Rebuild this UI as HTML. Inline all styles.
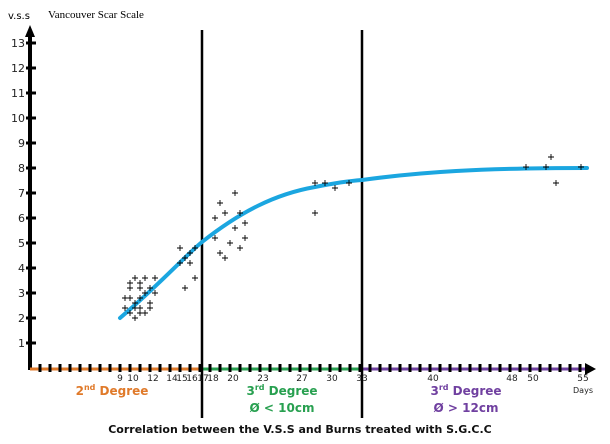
<!DOCTYPE html>
<html><head><style>body{margin:0;background:#fff}svg{display:block}</style></head><body>
<svg width="610" height="444" xmlns="http://www.w3.org/2000/svg" font-family="Verdana, 'DejaVu Sans', sans-serif">
<rect width="610" height="444" fill="#fff"/>
<line x1="30" y1="30" x2="30" y2="370" stroke="#000" stroke-width="4"/>
<polygon points="30,25 25,37 35,37" fill="#000"/>
<text x="8" y="19" font-size="10">v.s.s</text>
<text x="48" y="18" font-size="11" font-family="'Liberation Serif',serif">Vancouver Scar Scale</text>
<g stroke="#000" stroke-width="3">
<line x1="26" y1="43" x2="36" y2="43"/><line x1="26" y1="68" x2="36" y2="68"/><line x1="26" y1="93" x2="36" y2="93"/><line x1="26" y1="118" x2="36" y2="118"/><line x1="26" y1="143" x2="36" y2="143"/><line x1="26" y1="168" x2="36" y2="168"/><line x1="26" y1="193" x2="36" y2="193"/><line x1="26" y1="218" x2="36" y2="218"/><line x1="26" y1="243" x2="36" y2="243"/><line x1="26" y1="268" x2="36" y2="268"/><line x1="26" y1="293" x2="36" y2="293"/><line x1="26" y1="318" x2="36" y2="318"/><line x1="26" y1="343" x2="36" y2="343"/>
</g>
<g font-size="11" text-anchor="end" fill="#222">
<text x="25" y="47">13</text><text x="25" y="72">12</text><text x="25" y="97">11</text><text x="25" y="122">10</text><text x="25" y="147">9</text><text x="25" y="172">8</text><text x="25" y="197">7</text><text x="25" y="222">6</text><text x="25" y="247">5</text><text x="25" y="272">4</text><text x="25" y="297">3</text><text x="25" y="322">2</text><text x="25" y="347">1</text>
</g>
<line x1="30" y1="369" x2="202" y2="369" stroke="#e07a2a" stroke-width="3"/>
<line x1="202" y1="369" x2="362" y2="369" stroke="#28a050" stroke-width="3"/>
<line x1="362" y1="369" x2="588" y2="369" stroke="#7040a0" stroke-width="3"/>
<polygon points="596,369 585,363 585,375" fill="#000"/>
<path stroke="#000" stroke-width="3" d="M40,364v8M50,364v8M60,364v8M70,364v8M80,364v8M90,364v8M100,364v8M110,364v8M120,364v8M130,364v8M140,364v8M150,364v8M160,364v8M170,364v8M180,364v8M190,364v8M200,364v8M210,364v8M220,364v8M230,364v8M240,364v8M250,364v8M260,364v8M270,364v8M280,364v8M290,364v8M300,364v8M310,364v8M320,364v8M330,364v8M340,364v8M350,364v8M360,364v8M370,364v8M380,364v8M390,364v8M400,364v8M410,364v8M420,364v8M430,364v8M440,364v8M450,364v8M460,364v8M470,364v8M480,364v8M490,364v8M500,364v8M510,364v8M520,364v8M530,364v8M540,364v8M550,364v8M560,364v8M570,364v8M580,364v8"/>
<line x1="202" y1="30" x2="202" y2="418" stroke="#000" stroke-width="2.5"/>
<line x1="362" y1="30" x2="362" y2="418" stroke="#000" stroke-width="2.5"/>
<g font-size="9" text-anchor="middle" fill="#222">
<text x="120" y="381">9</text><text x="133" y="381">10</text><text x="153" y="381">12</text><text x="172" y="381">14</text><text x="182" y="381">15</text><text x="192" y="381">16</text><text x="203" y="381">17</text><text x="213" y="381">18</text><text x="233" y="381">20</text><text x="263" y="381">23</text><text x="302" y="381">27</text><text x="332" y="381">30</text><text x="362" y="381">33</text><text x="433" y="381">40</text><text x="512" y="381">48</text><text x="533" y="381">50</text><text x="583" y="381">55</text>
<text x="583" y="393" font-size="8">Days</text>
</g>
<g font-size="12" font-weight="bold" text-anchor="middle">
<text x="112" y="395" fill="#e07a2a">2<tspan font-size="8" dy="-5">nd</tspan><tspan dy="5"> Degree</tspan></text>
<text x="282" y="395" fill="#28a050">3<tspan font-size="8" dy="-5">rd</tspan><tspan dy="5"> Degree</tspan></text>
<text x="282" y="412" fill="#28a050">Ø &lt; 10cm</text>
<text x="466" y="395" fill="#7040a0">3<tspan font-size="8" dy="-5">rd</tspan><tspan dy="5"> Degree</tspan></text>
<text x="466" y="412" fill="#7040a0">Ø &gt; 12cm</text>
<text x="300" y="433" fill="#111" font-size="11">Correlation between the V.S.S and Burns treated with S.G.C.C</text>
</g>
<path d="M120,318 C160,284 185,256 202,242 C240,212 275,194 315,187 C335,183 348,181 362,180 C420,172 480,168 587,168" fill="none" stroke="#1ba6e0" stroke-width="4" stroke-linecap="round"/>
<path stroke="#000" stroke-width="0.9" fill="none" d="M177,248h6M180,245v6M187,253h6M190,250v6M192,248h6M195,245v6M182,258h6M185,255v6M177,263h6M180,260v6M187,263h6M190,260v6M192,278h6M195,275v6M182,288h6M185,285v6M132,278h6M135,275v6M142,278h6M145,275v6M152,278h6M155,275v6M127,283h6M130,280v6M137,283h6M140,280v6M127,288h6M130,285v6M137,288h6M140,285v6M147,288h6M150,285v6M142,293h6M145,290v6M152,293h6M155,290v6M122,298h6M125,295v6M127,298h6M130,295v6M137,298h6M140,295v6M132,303h6M135,300v6M147,303h6M150,300v6M122,308h6M125,305v6M132,308h6M135,305v6M137,308h6M140,305v6M147,308h6M150,305v6M127,313h6M130,310v6M137,313h6M140,310v6M142,313h6M145,310v6M132,318h6M135,315v6
M232,193h6M235,190v6M217,203h6M220,200v6M222,213h6M225,210v6M237,213h6M240,210v6M212,218h6M215,215v6M242,223h6M245,220v6M232,228h6M235,225v6M212,238h6M215,235v6M242,238h6M245,235v6M227,243h6M230,240v6M237,248h6M240,245v6M217,253h6M220,250v6M222,258h6M225,255v6
M312,183h6M315,180v6M322,183h6M325,180v6M332,188h6M335,185v6M346,183h6M349,180v6M312,213h6M315,210v6M523,167h6M526,164v6M543,167h6M546,164v6M548,157h6M551,154v6M553,183h6M556,180v6M578,167h6M581,164v6"/>
</svg>
</body></html>
